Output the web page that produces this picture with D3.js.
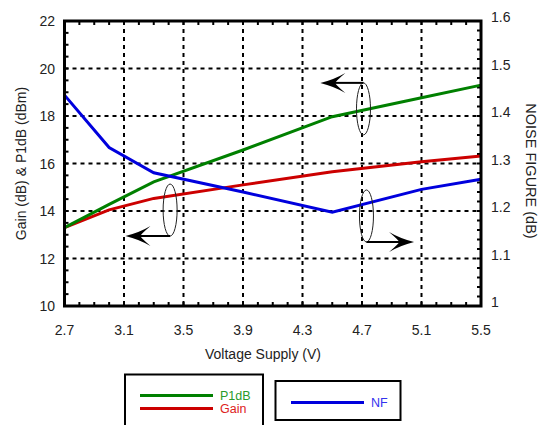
<!DOCTYPE html>
<html><head><meta charset="utf-8">
<script src="https://cdn.jsdelivr.net/npm/d3@7"></script>
<style>body{margin:0;background:#fff}svg{display:block}text{font-family:"Liberation Sans",Arial,sans-serif;fill:#222}</style>
</head><body><svg id="c" width="544" height="425"></svg>
<script>
const voltage = [2.7, 3.0, 3.3, 3.9, 4.5, 5.1, 5.5];
const p1dB = [13.3, 14.28, 15.23, 16.57, 17.97, 18.77, 19.3];
const gain = [13.3, 14.05, 14.53, 15.1, 15.65, 16.07, 16.32];
const nf = [1.444, 1.3335, 1.2805, 1.24, 1.1975, 1.2455, 1.2667];
const xTicks = [2.7, 3.1, 3.5, 3.9, 4.3, 4.7, 5.1, 5.5];
const yLeftTicks = [10, 12, 14, 16, 18, 20, 22];
const yRightTicks = [1, 1.1, 1.2, 1.3, 1.4, 1.5, 1.6];

const svg = d3.select("#c");
const L = 64.5, R = 481, T = 21, B = 306;
const x = d3.scaleLinear().domain([2.7, 5.5]).range([L, R]);
const yL = d3.scaleLinear().domain([10, 22]).range([B, T]);
const yR = d3.scaleLinear().domain([1, 1.6]).range([B, T]);

// grid
const g = svg.append("g");
g.selectAll(".vg").data(xTicks.slice(1, -1)).enter().append("line")
  .attr("x1", d => x(d)).attr("x2", d => x(d)).attr("y1", T).attr("y2", B)
  .attr("stroke", "#000").attr("stroke-width", 2).attr("stroke-dasharray", "4,4");
g.selectAll(".hg").data(yLeftTicks.slice(1, -1)).enter().append("line")
  .attr("y1", d => yL(d)).attr("y2", d => yL(d)).attr("x1", L).attr("x2", R)
  .attr("stroke", "#000").attr("stroke-width", 2).attr("stroke-dasharray", "4,4");

// minor ticks
const xMinor = d3.range(27, 56).map(v => v / 10);
const yLMinor = d3.range(20, 45).map(v => v / 2);
const yRMinor = d3.range(50, 81).map(v => v / 50);
const tk = 4;
g.selectAll(".xb").data(xMinor).enter().append("line")
  .attr("x1", d => x(d)).attr("x2", d => x(d)).attr("y1", B).attr("y2", B - tk).attr("stroke", "#000").attr("stroke-width", 2);
g.selectAll(".xt").data(xMinor).enter().append("line")
  .attr("x1", d => x(d)).attr("x2", d => x(d)).attr("y1", T).attr("y2", T + tk).attr("stroke", "#000").attr("stroke-width", 2);
g.selectAll(".yl").data(yLMinor).enter().append("line")
  .attr("y1", d => yL(d)).attr("y2", d => yL(d)).attr("x1", L).attr("x2", L + tk).attr("stroke", "#000").attr("stroke-width", 2);
g.selectAll(".yr").data(yRMinor).enter().append("line")
  .attr("y1", d => yR(d)).attr("y2", d => yR(d)).attr("x1", R).attr("x2", R - tk).attr("stroke", "#000").attr("stroke-width", 2);

// lines
const lineL = d3.line().x((d, i) => x(voltage[i])).y(d => yL(d));
const lineR = d3.line().x((d, i) => x(voltage[i])).y(d => yR(d));
svg.append("path").attr("d", lineL(gain)).attr("fill", "none").attr("stroke", "#cc0000").attr("stroke-width", 3);
svg.append("path").attr("d", lineL(p1dB)).attr("fill", "none").attr("stroke", "#008000").attr("stroke-width", 3);
svg.append("path").attr("d", lineR(nf)).attr("fill", "none").attr("stroke", "#0000dd").attr("stroke-width", 3);

// frame
svg.append("rect").attr("x", L).attr("y", T).attr("width", R - L).attr("height", B - T)
  .attr("fill", "none").attr("stroke", "#000").attr("stroke-width", 3);

// tick labels
svg.selectAll(".xl").data(xTicks).enter().append("text")
  .attr("x", d => x(d)).attr("y", 335).attr("text-anchor", "middle").attr("font-size", 14).text(d => d.toFixed(1));
svg.selectAll(".yll").data(yLeftTicks).enter().append("text")
  .attr("x", 55).attr("y", d => yL(d) + 5).attr("text-anchor", "end").attr("font-size", 14).text(d => d);
svg.selectAll(".yrl").data(yRightTicks).enter().append("text")
  .attr("x", 491).attr("y", d => yR(d) + 1).attr("text-anchor", "start").attr("font-size", 14).text(d => d === 1 ? "1" : d.toFixed(1));

// titles
svg.append("text").attr("x", 263).attr("y", 359).attr("text-anchor", "middle").attr("font-size", 14).text("Voltage Supply (V)");
svg.append("text").attr("transform", `translate(26,${(T + B) / 2}) rotate(-90)`).attr("text-anchor", "middle").attr("font-size", 14).text("Gain (dB) & P1dB (dBm)");
svg.append("text").attr("transform", `translate(526,171) rotate(90)`).attr("text-anchor", "middle").attr("font-size", 14.5).text("NOISE FIGURE (dB)");

// annotations: ellipses + arrows
function annot(cv, cg, scaleY, tipV, atTop) {
  const cx = x(cv), cy = scaleY(cg), rx = 7, ry = 26;
  svg.append("ellipse").attr("cx", cx).attr("cy", cy).attr("rx", rx).attr("ry", ry)
    .attr("fill", "none").attr("stroke", "#222").attr("stroke-width", 1);
  const ay = atTop ? cy - ry : cy + ry;
  const tx = x(tipV);
  const dir = tx < cx ? 1 : -1;
  svg.append("line").attr("x1", cx).attr("x2", tx + dir * 12).attr("y1", ay).attr("y2", ay)
    .attr("stroke", "#000").attr("stroke-width", 2);
  const p = d3.path();
  p.moveTo(tx, ay);
  p.quadraticCurveTo(tx + dir * 14, ay - 3.5, tx + dir * 25, ay - 10);
  p.quadraticCurveTo(tx + dir * 15, ay - 1.5, tx + dir * 15, ay);
  p.quadraticCurveTo(tx + dir * 15, ay + 1.5, tx + dir * 25, ay + 10);
  p.quadraticCurveTo(tx + dir * 14, ay + 3.5, tx, ay);
  p.closePath();
  svg.append("path").attr("d", p.toString()).attr("fill", "#000");
}
annot(3.41, 14.04, yL, 3.11, false);
annot(4.71, 18.3, yL, 4.42, true);
annot(4.73, 13.79, yL, 5.05, false);

// legends
svg.append("rect").attr("x", 125).attr("y", 374.5).attr("width", 138).attr("height", 70)
  .attr("fill", "none").attr("stroke", "#000").attr("stroke-width", 2);
svg.append("rect").attr("x", 275.5).attr("y", 381).attr("width", 125).attr("height", 39)
  .attr("fill", "none").attr("stroke", "#000").attr("stroke-width", 2);
const leg = [
  {name: "P1dB", color: "#008000", tc: "#2a9a2a", x1: 140, y: 395.5, ty: 399.5},
  {name: "Gain", color: "#cc0000", tc: "#dd2222", x1: 140, y: 408.5, ty: 413},
  {name: "NF", color: "#0000dd", tc: "#3333ee", x1: 291, y: 402.5, ty: 407}
];
leg.forEach(d => {
  svg.append("line").attr("x1", d.x1).attr("x2", d.x1 + 73).attr("y1", d.y).attr("y2", d.y)
    .attr("stroke", d.color).attr("stroke-width", 3);
  svg.append("text").attr("x", d.x1 + 80).attr("y", d.ty).attr("font-size", 12.5)
    .style("fill", d.tc).text(d.name);
});
</script></body></html>
